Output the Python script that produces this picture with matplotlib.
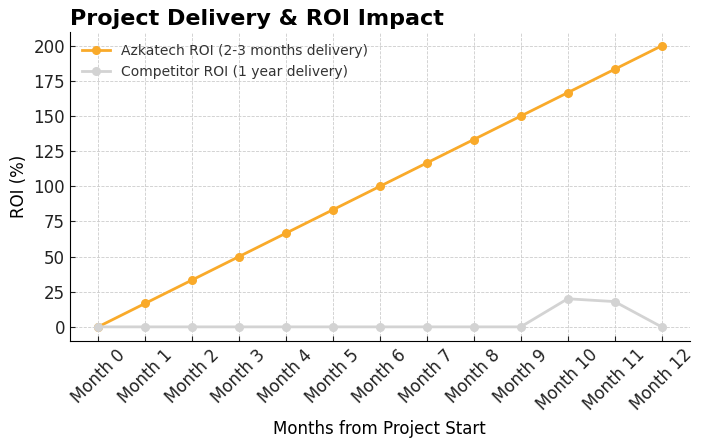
import numpy as np
import matplotlib.pyplot as plt

# Data
months = [f"Month {i}" for i in range(13)]
azkatech_roi = [0, 16.67, 33.33, 50, 66.67, 83.33, 100, 116.67, 133.33, 150, 166.67, 183.33, 200]
competitor_roi = [0, 0, 0, 0, 0, 0, 0, 0, 0, 0, 20, 18, 0]

fig, ax = plt.subplots(figsize=(7.06, 4.48), dpi=100)

x = np.arange(len(months))
ax.plot(x, azkatech_roi, color='#F9AA2A', marker='o', markersize=5.5, linewidth=2,
        label='Azkatech ROI (2-3 months delivery)')
ax.plot(x, competitor_roi, color='#D3D3D3', marker='o', markersize=5.5, linewidth=2,
        label='Competitor ROI (1 year delivery)')

ax.set_xticks(x)
ax.set_xticklabels(months, rotation=45)
ax.set_ylim(-10, 210)
ax.set_yticks(range(0, 201, 25))

ax.set_title('Project Delivery & ROI Impact', loc='left', fontsize=16, fontweight='bold', pad=5)
ax.set_xlabel('Months from Project Start', fontsize=12)
ax.set_ylabel('ROI (%)', fontsize=12)

ax.grid(True, linestyle='--', linewidth=0.6, color='#CCCCCC')
ax.set_axisbelow(True)
ax.tick_params(direction='in', labelsize=12, colors='#222222')
ax.spines['top'].set_visible(False)
ax.spines['right'].set_visible(False)

leg = ax.legend(loc='upper left', frameon=False, fontsize=10)
for t in leg.get_texts():
    t.set_color('#333333')

fig.subplots_adjust(left=0.099, right=0.977, top=0.929, bottom=0.239)
plt.savefig('out.png', dpi=100)
